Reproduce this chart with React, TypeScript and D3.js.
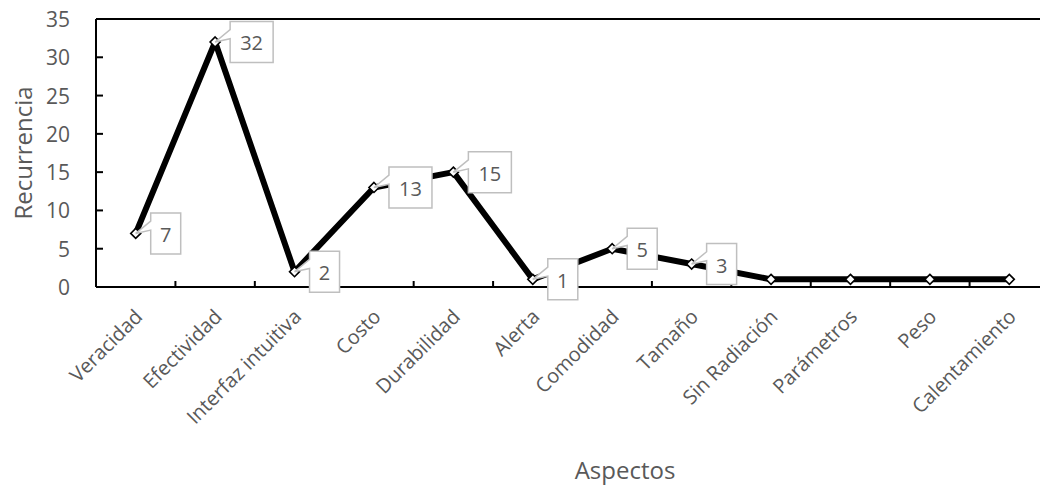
import React from "react";
import * as d3 from "d3";

const categories = [
  "Veracidad",
  "Efectividad",
  "Interfaz intuitiva",
  "Costo",
  "Durabilidad",
  "Alerta",
  "Comodidad",
  "Tamaño",
  "Sin Radiación",
  "Parámetros",
  "Peso",
  "Calentamiento",
];
const recurrencia = [7, 32, 2, 13, 15, 1, 5, 3, 1, 1, 1, 1];
// categories whose value is shown in a callout box
const labelled = [true, true, true, true, true, true, true, true, false, false, false, false];
const yTicks = [0, 5, 10, 15, 20, 25, 30, 35];

const W = 1040;
const H = 492;
const M = { left: 96, right: 1049, top: 19, bottom: 287 };
const FONT = "'Open Sans', 'Noto Sans', sans-serif";
const GREY = "#595959";

export default function App() {
  const x = d3.scaleBand<string>().domain(categories).range([M.left, M.right]);
  const y = d3.scaleLinear().domain([0, 35]).range([M.bottom, M.top]);
  const cx = (c: string) => (x(c) as number) + x.bandwidth() / 2;

  const line = d3
    .line<number>()
    .x((_, i) => cx(categories[i]))
    .y((d) => y(d));

  const tickBoundaries = categories.map((c) => x(c) as number).slice(1);

  const diamond = d3.symbol(d3.symbolDiamond2, 64)();

  const callout = (px: number, py: number, text: string) => {
    const w = text.length > 1 ? 43 : 30;
    const h = 41;
    const left = px + 15;
    const top = py - h / 2;
    const a1 = top + h * 0.2;
    const a2 = top + h * 0.42;
    const d = `M${left},${top}H${left + w}V${top + h}H${left}V${a2}L${px},${py}L${left},${a1}Z`;
    return (
      <g key={text + px}>
        <path d={d} fill="#fff" stroke="#BFBFBF" strokeWidth={1.5} />
        <text
          x={left + w / 2}
          y={top + h / 2 + 1}
          textAnchor="middle"
          dominantBaseline="central"
          fontSize={20}
          fill={GREY}
          fontFamily={FONT}
        >
          {text}
        </text>
      </g>
    );
  };

  return (
    <svg
      width={W}
      height={H}
      style={{ position: "absolute", left: 0, top: 0, background: "#fff" }}
    >
      {/* plot frame */}
      <line x1={M.left} x2={W} y1={M.top} y2={M.top} stroke="#000" strokeWidth={2} />
      <line x1={M.left} x2={M.left} y1={M.top} y2={M.bottom} stroke="#000" strokeWidth={2} />
      <line x1={M.left} x2={W} y1={M.bottom} y2={M.bottom} stroke="#000" strokeWidth={2} />

      {/* y ticks */}
      {yTicks.map((t) => (
        <g key={t}>
          <line x1={M.left} x2={M.left + 7} y1={y(t)} y2={y(t)} stroke="#000" strokeWidth={2} />
          <text
            x={70}
            y={y(t)}
            textAnchor="end"
            dominantBaseline="central"
            fontSize={21}
            fill={GREY}
            fontFamily={FONT}
          >
            {t}
          </text>
        </g>
      ))}

      {/* x ticks between categories */}
      {tickBoundaries.map((b, i) => (
        <line key={i} x1={b} x2={b} y1={M.bottom} y2={M.bottom - 6} stroke="#000" strokeWidth={2} />
      ))}

      {/* x labels */}
      {categories.map((c) => (
        <text
          key={c}
          transform={`translate(${cx(c) + 8},${318}) rotate(-45)`}
          textAnchor="end"
          fontSize={20}
          fill={GREY}
          fontFamily={FONT}
        >
          {c}
        </text>
      ))}

      {/* axis titles */}
      <text
        transform={`translate(22,${(M.top + M.bottom) / 2}) rotate(-90)`}
        textAnchor="middle"
        dominantBaseline="central"
        fontSize={24}
        fill={GREY}
        fontFamily={FONT}
      >
        Recurrencia
      </text>
      <text x={625} y={479} textAnchor="middle" fontSize={24} fill={GREY} fontFamily={FONT}>
        Aspectos
      </text>

      {/* series */}
      <path d={line(recurrencia) || ""} fill="none" stroke="#000" strokeWidth={6} strokeLinejoin="round" />

      {recurrencia.map((v, i) => (
        <path
          key={i}
          d={diamond || ""}
          transform={`translate(${cx(categories[i])},${y(v)})`}
          fill="#fff"
          stroke="#000"
          strokeWidth={1.6}
        />
      ))}

      {recurrencia.map((v, i) =>
        labelled[i] ? callout(cx(categories[i]), y(v), String(v)) : null
      )}
    </svg>
  );
}
